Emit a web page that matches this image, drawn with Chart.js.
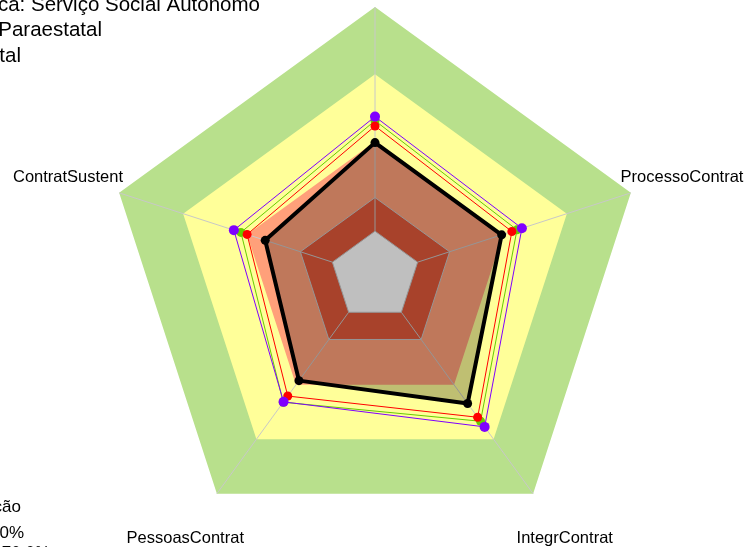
<!DOCTYPE html>
<html><head><meta charset="utf-8">
<script src="https://cdn.jsdelivr.net/npm/chart.js@4.4.0/dist/chart.umd.min.js"></script>
<style>html,body{margin:0;padding:0;background:#fff;overflow:hidden}canvas{display:block}</style>
</head><body>
<canvas id="c" width="746" height="547"></canvas>
<script>
// ---- data ----
const categories = ['PlanejContrat', 'ProcessoContrat', 'IntegrContrat', 'PessoasContrat', 'ContratSustent'];
const scaleMin = -20;
const scaleMax = 100;
const bandLevels = [100, 70, 40, 15, 0];
const bandColors = ['#B8E08C', '#FFFF99', '#FFA07A', '#E0583A', '#FFFFFF'];
const orgValues    = [39.5, 39.4, 50.3, 37.7, 31.5];
const redValues    = [46.9, 44.2, 57.9, 46.2, 40.0];
const greenValues  = [49.3, 46.6, 60.1, 49.6, 42.9];
const purpleValues = [51.1, 48.9, 63.2, 49.4, 46.2];
const seriesLegend = ['Natureza Jurídica: Serviço Social Autônomo', 'Segmento: Paraestatal', 'Total'];
const bandLegend = ['Classificação', 'Aprimorado: 70% - 100%', 'Intermediário: 40.0% - 70.0%'];

const bandDatasets = bandLevels.map((lvl, i) => ({
  label: 'band' + lvl,
  data: categories.map(() => lvl),
  backgroundColor: bandColors[i],
  borderColor: '#C8C8C8',
  borderWidth: (lvl <= 15) ? 1 : 0,
  fill: 'start',
  pointRadius: 0,
  order: 20 - i
}));
const WHITE_BAND_INDEX = bandDatasets.length - 1;

function series(label, data, color, width, radius, order, fillColor) {
  return {
    label, data,
    borderColor: color, borderWidth: width,
    backgroundColor: fillColor || 'rgba(0,0,0,0)',
    fill: fillColor ? 'start' : false,
    pointRadius: radius, pointBackgroundColor: color, pointBorderWidth: 0,
    pointHoverRadius: radius,
    borderJoinStyle: 'round',
    order
  };
}

const datasets = bandDatasets.concat([
  series('Verde', greenValues, '#66CD00', 1, 4.5, 4),
  series('Vermelho', redValues, '#FF0000', 1, 4.5, 3),
  series('Roxo', purpleValues, '#7F00FF', 1, 5, 2),
  series('Organização', orgValues, '#000000', 4, 4.5, 1, 'rgba(0,0,0,0.25)')
]);

const spokes = {
  id: 'spokes',
  afterDatasetDraw(chart, args) {
    if (args.index !== WHITE_BAND_INDEX) return;
    const s = chart.scales.r, ctx = chart.ctx;
    ctx.save();
    ctx.strokeStyle = '#C8C8C8';
    ctx.lineWidth = 1;
    for (let i = 0; i < categories.length; i++) {
      const a = s.getPointPositionForValue(i, 0);
      const b = s.getPointPositionForValue(i, scaleMax);
      ctx.beginPath(); ctx.moveTo(a.x, a.y); ctx.lineTo(b.x, b.y); ctx.stroke();
    }
    ctx.restore();
  }
};

const texts = {
  id: 'texts',
  afterDraw(chart) {
    const s = chart.scales.r, ctx = chart.ctx;
    ctx.save();
    ctx.fillStyle = '#000';
    ctx.font = '16.5px "Liberation Sans", Arial, sans-serif';
    ctx.textAlign = 'center';
    ctx.textBaseline = 'middle';
    categories.forEach((c, i) => {
      const p = s.getPointPosition(i, s.drawingArea * 1.2);
      ctx.fillText(c, p.x, p.y + 1);
    });
    ctx.textBaseline = 'alphabetic';
    ctx.textAlign = 'right';
    ctx.font = '20.5px "Liberation Sans", Arial, sans-serif';
    const ends = [260, 102, 21];
    seriesLegend.forEach((t, i) => ctx.fillText(t, ends[i], 10.5 + i * 25.5));
    ctx.font = '17px "Liberation Sans", Arial, sans-serif';
    const ends2 = [21, 24, 50];
    const bases2 = [511.5, 537.5, 557.5];
    bandLegend.forEach((t, i) => ctx.fillText(t, ends2[i], bases2[i]));
    ctx.restore();
  }
};

new Chart(document.getElementById('c'), {
  type: 'radar',
  data: { labels: categories, datasets },
  options: {
    responsive: false,
    animation: false,
    layout: { padding: 0 },
    plugins: { legend: { display: false }, tooltip: { enabled: false } },
    elements: { line: { tension: 0 } },
    scales: {
      r: {
        min: scaleMin, max: scaleMax,
        ticks: { display: false },
        grid: { display: false },
        angleLines: { display: false },
        pointLabels: { display: false },
        afterFit(scale) {
          scale.xCenter = 375;
          scale.yCenter = 276;
          scale.drawingArea = 269;
        }
      }
    }
  },
  plugins: [spokes, texts]
});
</script>
</body></html>
